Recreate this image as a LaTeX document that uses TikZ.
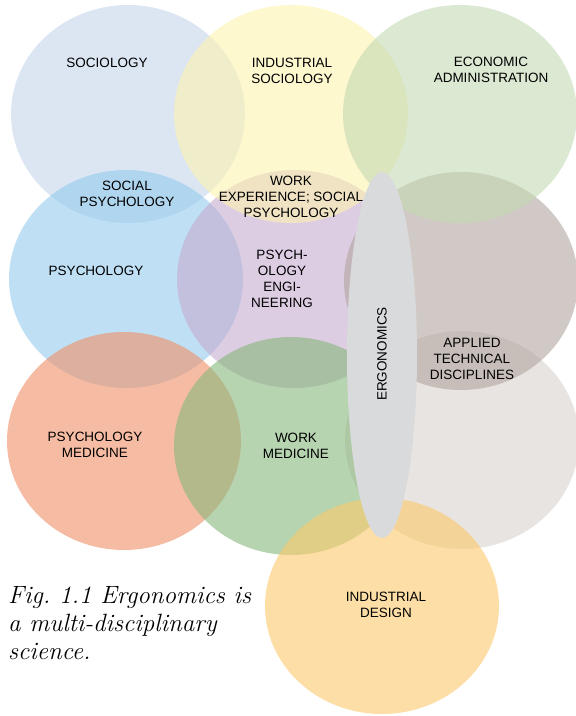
\documentclass[tikz,border=0pt]{standalone}
\usepackage{fontspec}
\newfontfamily\lblfont{Liberation Sans}

\definecolor{socblue}{RGB}{197,213,235}
\definecolor{indyellow}{RGB}{253,243,175}
\definecolor{ecogreen}{RGB}{195,217,180}
\definecolor{psyblue}{RGB}{148,203,237}
\definecolor{engpurple}{RGB}{197,172,208}
\definecolor{techtaupe}{RGB}{177,165,158}
\definecolor{medsalmon}{RGB}{240,143,102}
\definecolor{workgreen}{RGB}{135,183,123}
\definecolor{techgray}{RGB}{217,210,205}
\definecolor{designorange}{RGB}{252,200,107}
\definecolor{ergogray}{RGB}{217,218,220}

\tikzset{
  disc/.style={fill opacity=0.6},
  lbl/.style={font=\lblfont\fontsize{13.5}{16}\selectfont, align=center, text=black},
}

\begin{document}
\frenchspacing
\begin{tikzpicture}[x=1pt, y=-1pt]

    \useasboundingbox (0,0) rectangle (576,716);

    % Discs (drawing order gives the overlaps)
    \fill[disc, socblue]      (128,114) ellipse [x radius=117pt, y radius=109pt];
    \fill[disc, psyblue]      (126,279) ellipse [x radius=117pt, y radius=109pt];
    \fill[disc, engpurple]    (294,279) ellipse [x radius=117pt, y radius=109pt];
    \fill[disc, indyellow]    (291,114) ellipse [x radius=117pt, y radius=109pt];
    \fill[disc, techgray]     (462,440) ellipse [x radius=117pt, y radius=109pt];
    \fill[disc, techtaupe]    (461,281) ellipse [x radius=117pt, y radius=109pt];
    \fill[disc, ecogreen]     (460,114) ellipse [x radius=117pt, y radius=109pt];
    \fill[disc, medsalmon]    (124,441) ellipse [x radius=117pt, y radius=109pt];
    \fill[disc, workgreen]    (291,446) ellipse [x radius=117pt, y radius=109pt];
    \fill[disc, designorange] (382,606) ellipse [x radius=117pt, y radius=108pt];

    % Ergonomics bar
    \fill[ergogray] (382,355) ellipse [x radius=35pt, y radius=183pt];
    \node[lbl, rotate=90] (ergo) at (382,354) {ERGONOMICS};

    % Top row
    \node[lbl] (soc) at (107,63) {SOCIOLOGY};
    \node[lbl] (indsoc) at (292,71) {INDUSTRIAL\\SOCIOLOGY};
    \node[lbl] (eco) at (491,70) {ECONOMIC\\ADMINISTRATION};

    % Lenses between top and middle row
    \node[lbl] (socpsy) at (127,194) {SOCIAL\\PSYCHOLOGY};
    \node[lbl] (workexp) at (291,197) {WORK\\EXPERIENCE; SOCIAL\\PSYCHOLOGY};

    % Middle row
    \node[lbl] (psy) at (96,271) {PSYCHOLOGY};
    \node[lbl] (psyeng) at (282,279) {PSYCH-\\OLOGY\\ENGI-\\NEERING};
    \node[lbl] (tech) at (472,359) {APPLIED\\TECHNICAL\\DISCIPLINES};

    % Bottom row
    \node[lbl] (psymed) at (95,445) {PSYCHOLOGY\\MEDICINE};
    \node[lbl] (workmed) at (296,446) {WORK\\MEDICINE};
    \node[lbl] (design) at (386,605) {INDUSTRIAL\\DESIGN};

    % Caption
    \node[anchor=west, align=left, inner sep=0pt, font=\fontsize{25}{28}\selectfont\itshape] (cap) at (8,623)
      {Fig. 1.1 Ergonomics is\\a multi-disciplinary\\science.};

\end{tikzpicture}
\end{document}
